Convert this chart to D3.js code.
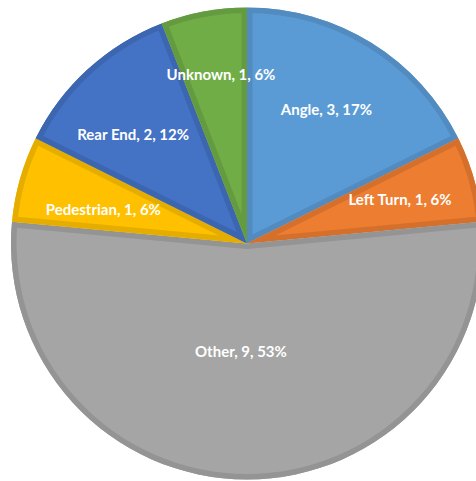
<!DOCTYPE html>
<html><head><meta charset="utf-8">
<script src="https://cdn.jsdelivr.net/npm/d3@7"></script>
<style>html,body{margin:0;padding:0;background:#fff;overflow:hidden}</style>
</head><body>
<svg id="c" width="476" height="481"></svg>
<script>
const categories = ["Angle", "Left Turn", "Other", "Pedestrian", "Rear End", "Unknown"];
const values = [3, 1, 9, 1, 2, 1];
const percentLabels = ["17%", "6%", "53%", "6%", "12%", "6%"];
const colors = ["#5B9BD5", "#ED7D31", "#A5A5A5", "#FFC000", "#4472C4", "#70AD47"];

// layout
const cx = 247, cy = 243.5, R = 236;
const labelRadius = [0.658, 0.674, 0.46, 0.625, 0.667, 0.722];
const labelShiftDeg = [-1, 0, 3.2, -2.8, -4, 1.8];

const svg = d3.select("#c");
const data = categories.map((c, i) => ({ name: c, value: values[i], pct: percentLabels[i], color: colors[i], i }));
const pie = d3.pie().value(d => d.value).sort(null);
const arcs = pie(data);
const arc = d3.arc().innerRadius(0).outerRadius(R);
const g = svg.append("g").attr("transform", `translate(${cx},${cy})`);
const defs = svg.append("defs");

arcs.forEach((a, i) => {
  defs.append("clipPath").attr("id", "clip" + i).append("path").attr("d", arc(a));
});

const slices = g.selectAll("g.slice").data(arcs).enter().append("g").attr("class", "slice");
slices.append("path").attr("d", arc).attr("fill", d => d.data.color);
slices.append("path").attr("d", arc)
  .attr("fill", "none")
  .attr("stroke", d => d3.color(d.data.color).darker(0.3))
  .attr("stroke-width", 11)
  .attr("stroke-linejoin", "round")
  .attr("clip-path", (d, i) => `url(#clip${i})`);

g.selectAll("text.lbl").data(arcs).enter().append("text")
  .attr("class", "lbl")
  .attr("transform", (d, i) => {
    const m = (d.startAngle + d.endAngle) / 2 + labelShiftDeg[i] * Math.PI / 180;
    const r = R * labelRadius[i];
    return `translate(${r * Math.sin(m)},${-r * Math.cos(m)})`;
  })
  .attr("text-anchor", "middle")
  .attr("dy", "0.35em")
  .attr("fill", "#fff")
  .attr("font-family", "Lato, 'Open Sans', sans-serif")
  .attr("font-weight", "bold")
  .attr("font-size", "15px")
  .text(d => `${d.data.name}, ${d.data.value}, ${d.data.pct}`);
</script>
</body></html>
